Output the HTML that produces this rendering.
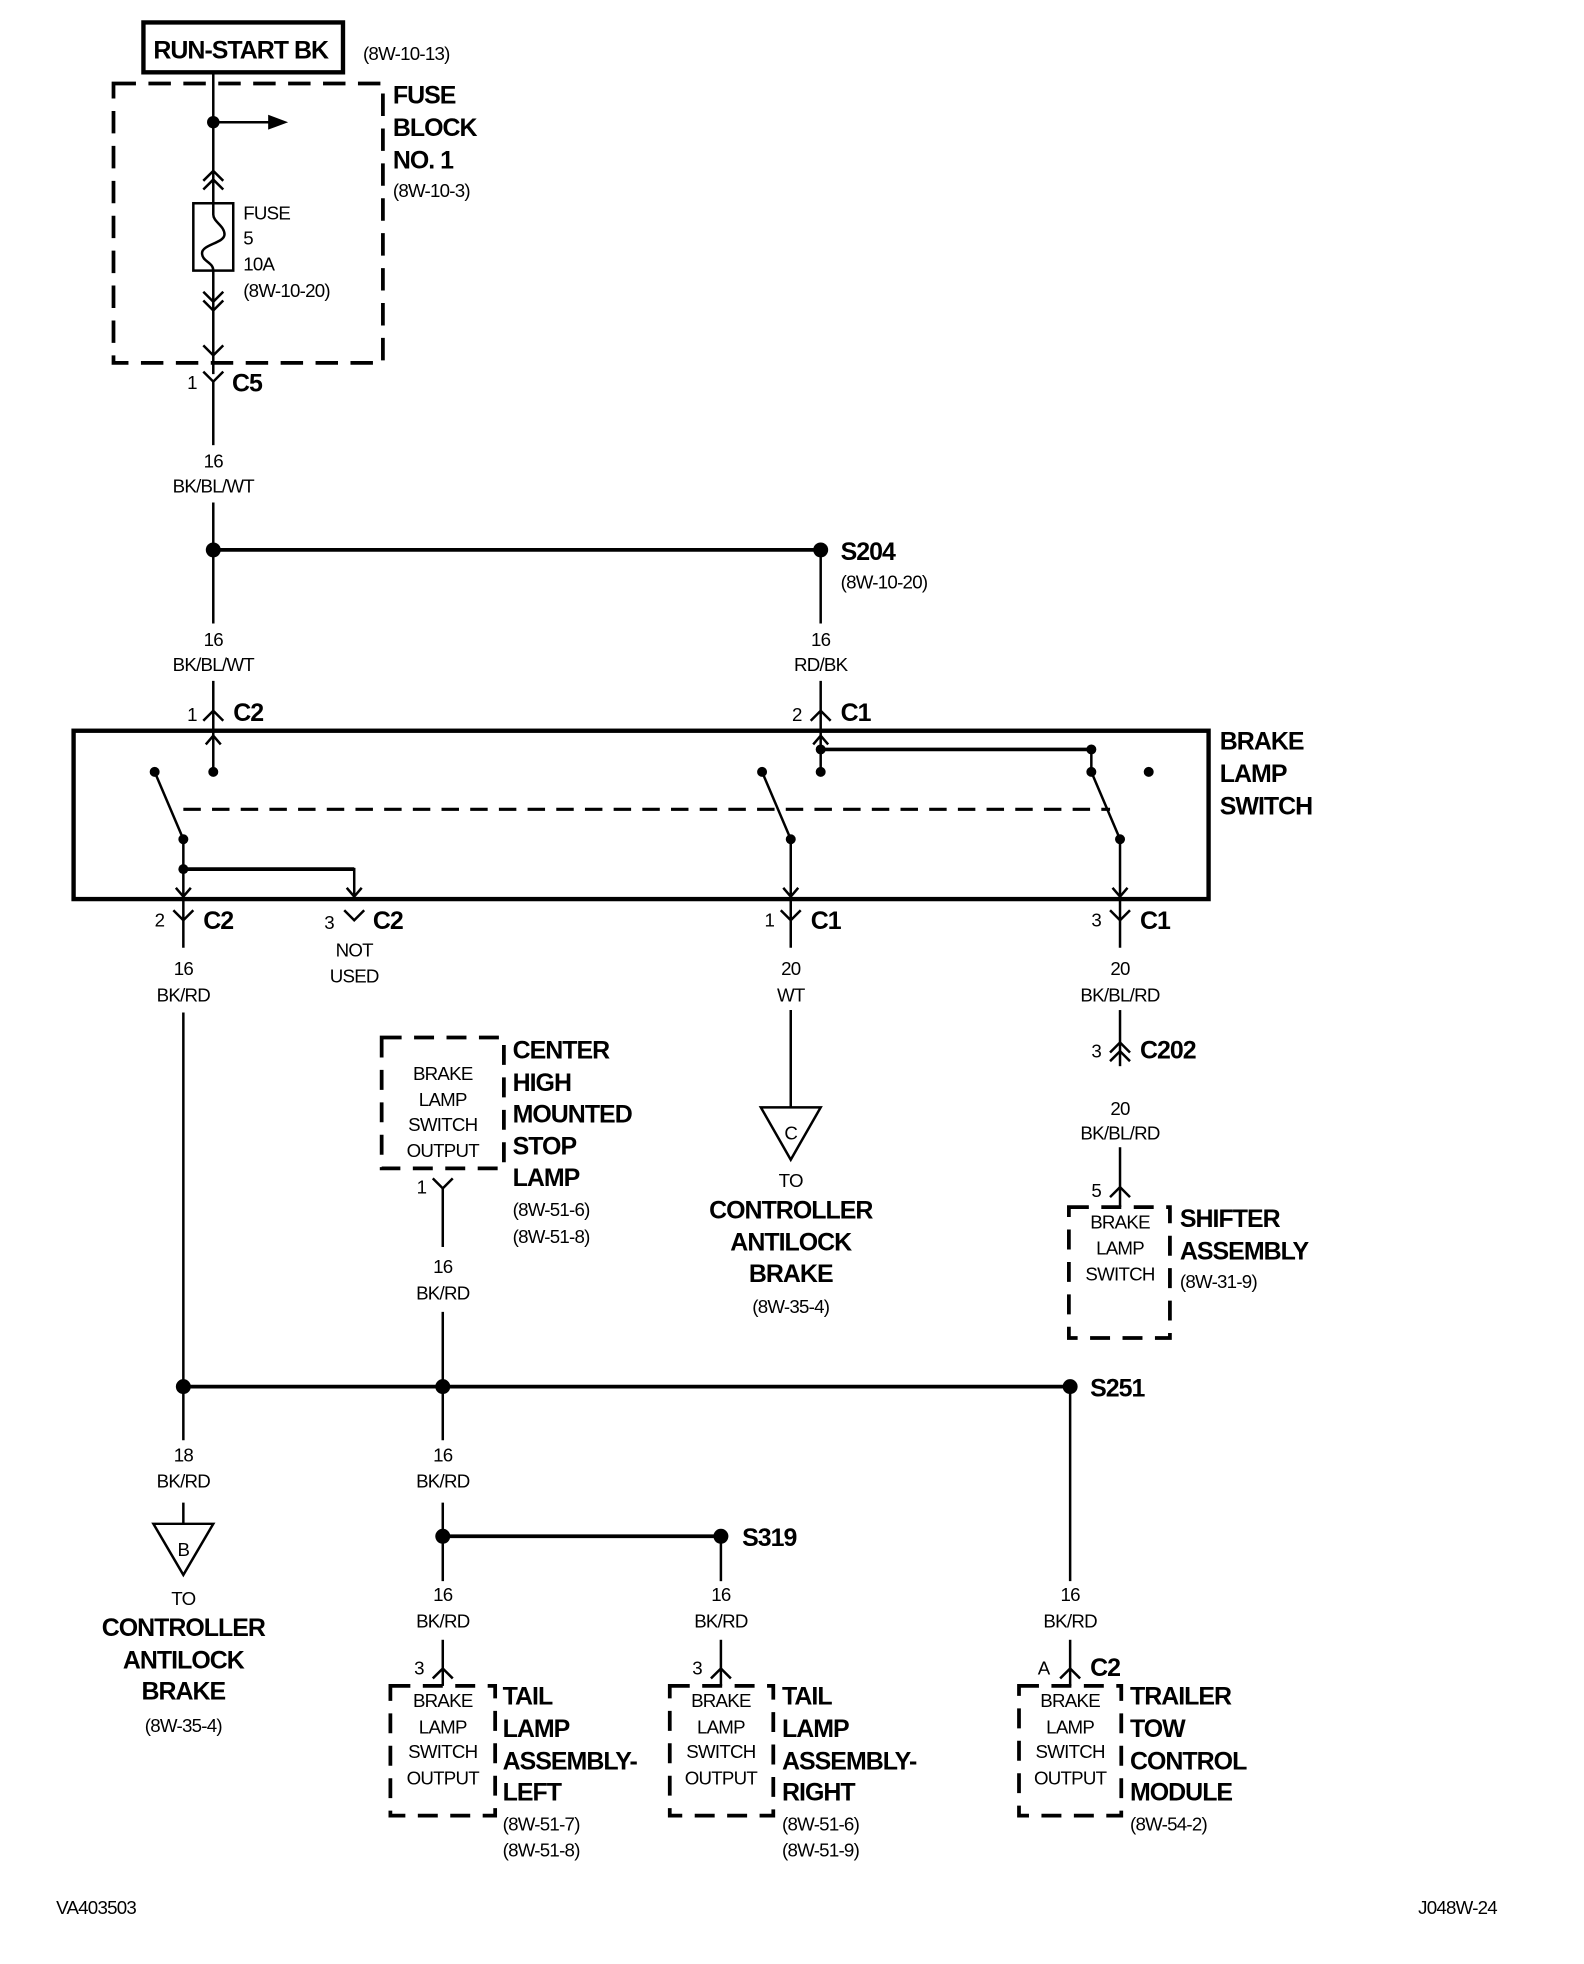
<!DOCTYPE html>
<html><head><meta charset="utf-8"><style>
html,body{margin:0;padding:0;background:#fff}
svg{display:block}
text{font-family:"Liberation Sans",sans-serif;fill:#000}
.b{font-weight:bold;font-size:20px;letter-spacing:-0.8px}
.s{font-size:15px;letter-spacing:-0.6px}
.c{text-anchor:middle}
</style></head><body>
<svg width="1584" height="1964" viewBox="0 0 1270 1575" preserveAspectRatio="none" xmlns="http://www.w3.org/2000/svg">
<g stroke="#000" stroke-width="2" fill="none">
<!-- top -->
<rect x="115" y="18" width="160" height="40" stroke-width="3.5"/>
<rect x="91" y="67" width="216" height="224" stroke-width="3" stroke-dasharray="18 10"/>
<line x1="171" y1="58" x2="171" y2="163"/>
<line x1="171" y1="98" x2="218" y2="98"/>
<polyline points="163,145 171,137 179,145"/><polyline points="163,152 171,144 179,152"/>
<rect x="155" y="163" width="32" height="54"/>
<path d="M171,163 V172 C171,178 180,181 180,188 C180,195 162,196 162,203 C162,210 171,210 171,217"/>
<line x1="171" y1="217" x2="171" y2="300"/>
<polyline points="163,234 171,242 179,234"/><polyline points="163,241 171,249 179,241"/>
<polyline points="163,277 171,285 179,277"/>
<polyline points="163,298 171,306 179,298"/>
<line x1="171" y1="306" x2="171" y2="357"/>
<line x1="171" y1="403" x2="171" y2="500"/>
<line x1="171" y1="441" x2="658" y2="441" stroke-width="3"/>
<line x1="658" y1="441" x2="658" y2="500"/>
<!-- C2 / C1 top -->
<line x1="171" y1="546" x2="171" y2="620"/>
<polyline points="163,578 171,570 179,578"/>
<polyline points="165,597 171,590 177,597"/>
<line x1="658" y1="546" x2="658" y2="620"/>
<polyline points="650,578 658,570 666,578"/>
<polyline points="652,597 658,590 664,597"/>
<!-- switch box -->
<rect x="59" y="586" width="910" height="135" stroke-width="3.5"/>
<line x1="124" y1="619" x2="147" y2="673"/>
<line x1="611" y1="619" x2="634" y2="673"/>
<line x1="875" y1="619" x2="898" y2="673"/>
<line x1="147" y1="649" x2="890" y2="649" stroke-width="2.5" stroke-dasharray="14 9"/>
<line x1="658" y1="601" x2="875" y2="601" stroke-width="3"/>
<line x1="875" y1="601" x2="875" y2="619"/>
<line x1="147" y1="673" x2="147" y2="760"/>
<polyline points="147,697 284,697 284,720" stroke-width="2"/>
<line x1="147" y1="697" x2="284" y2="697" stroke-width="3"/>
<line x1="634" y1="673" x2="634" y2="760"/>
<line x1="898" y1="673" x2="898" y2="760"/>
<polyline points="141,712 147,719 153,712"/><polyline points="278,712 284,719 290,712"/>
<polyline points="628,712 634,719 640,712"/><polyline points="892,712 898,719 904,712"/>
<polyline points="139,730 147,738 155,730"/><polyline points="276,730 284,738 292,730"/>
<polyline points="626,730 634,738 642,730"/><polyline points="890,730 898,738 906,730"/>
<!-- lower wires -->
<line x1="147" y1="812" x2="147" y2="1155"/>
<line x1="634" y1="810" x2="634" y2="888"/>
<polygon points="610,888 658,888 634,930"/>
<line x1="898" y1="810" x2="898" y2="855"/>
<polyline points="890,844 898,836 906,844"/><polyline points="890,851 898,843 906,851"/>
<line x1="898" y1="920" x2="898" y2="968"/>
<polyline points="890,960 898,952 906,960"/>
<rect x="857" y="968" width="81" height="105" stroke-width="3" stroke-dasharray="16 10"/>
<rect x="306" y="832" width="98" height="105" stroke-width="3" stroke-dasharray="16 10"/>
<polyline points="347,945 355,953 363,945"/>
<line x1="355" y1="953" x2="355" y2="1000"/>
<line x1="355" y1="1052" x2="355" y2="1155"/>
<line x1="147" y1="1112" x2="858" y2="1112" stroke-width="3"/>
<line x1="858" y1="1112" x2="858" y2="1268"/>
<line x1="147" y1="1205" x2="147" y2="1222"/>
<polygon points="123,1222 171,1222 147,1263"/>
<line x1="355" y1="1205" x2="355" y2="1268"/>
<line x1="355" y1="1232" x2="578" y2="1232" stroke-width="3"/>
<line x1="578" y1="1232" x2="578" y2="1268"/>
<line x1="355" y1="1315" x2="355" y2="1352"/><polyline points="347,1346 355,1338 363,1346"/>
<line x1="578" y1="1315" x2="578" y2="1352"/><polyline points="570,1346 578,1338 586,1346"/>
<line x1="858" y1="1315" x2="858" y2="1352"/><polyline points="850,1346 858,1338 866,1346"/>
<rect x="313" y="1352" width="84" height="104" stroke-width="3" stroke-dasharray="16 10"/>
<rect x="537" y="1352" width="83" height="104" stroke-width="3" stroke-dasharray="16 10"/>
<rect x="817" y="1352" width="82" height="104" stroke-width="3" stroke-dasharray="16 10"/>
</g>
<polygon points="215,92 231,98 215,104" fill="#000"/>
<g fill="#000">
<circle cx="171" cy="98" r="5"/><circle cx="171" cy="441" r="6"/><circle cx="658" cy="441" r="6"/>
<circle cx="124" cy="619" r="4"/><circle cx="171" cy="619" r="4"/><circle cx="147" cy="673" r="4"/><circle cx="147" cy="697" r="4"/>
<circle cx="611" cy="619" r="4"/><circle cx="658" cy="619" r="4"/><circle cx="658" cy="601" r="4"/><circle cx="634" cy="673" r="4"/>
<circle cx="875" cy="601" r="4"/><circle cx="875" cy="619" r="4"/><circle cx="921" cy="619" r="4"/><circle cx="898" cy="673" r="4"/>
<circle cx="147" cy="1112" r="6"/><circle cx="355" cy="1112" r="6"/><circle cx="858" cy="1112" r="6"/>
<circle cx="355" cy="1232" r="6"/><circle cx="578" cy="1232" r="6"/>
</g>
<text class="b" x="123" y="47">RUN-START BK</text>
<text class="s" x="291" y="48">(8W-10-13)</text>
<text class="b" x="315" y="83">FUSE</text><text class="b" x="315" y="109">BLOCK</text><text class="b" x="315" y="135">NO. 1</text>
<text class="s" x="315" y="158">(8W-10-3)</text>
<text class="s" x="195" y="176">FUSE</text><text class="s" x="195" y="196">5</text><text class="s" x="195" y="217">10A</text><text class="s" x="195" y="238">(8W-10-20)</text>
<text class="s" x="150" y="312">1</text><text class="b" x="186" y="314">C5</text>
<text class="s c" x="171" y="375">16</text><text class="s c" x="171" y="395">BK/BL/WT</text>
<text class="b" x="674" y="449">S204</text><text class="s" x="674" y="472">(8W-10-20)</text>
<text class="s c" x="171" y="518">16</text><text class="s c" x="171" y="538">BK/BL/WT</text>
<text class="s c" x="658" y="518">16</text><text class="s c" x="658" y="538">RD/BK</text>
<text class="s" x="150" y="578">1</text><text class="b" x="187" y="578">C2</text>
<text class="s" x="635" y="578">2</text><text class="b" x="674" y="578">C1</text>
<text class="b" x="978" y="601">BRAKE</text><text class="b" x="978" y="627">LAMP</text><text class="b" x="978" y="653">SWITCH</text>
<text class="s" x="124" y="743">2</text><text class="b" x="163" y="745">C2</text>
<text class="s" x="260" y="745">3</text><text class="b" x="299" y="745">C2</text>
<text class="s" x="613" y="743">1</text><text class="b" x="650" y="745">C1</text>
<text class="s" x="875" y="743">3</text><text class="b" x="914" y="745">C1</text>
<text class="s c" x="147" y="782">16</text><text class="s c" x="147" y="803">BK/RD</text>
<text class="s c" x="284" y="767">NOT</text><text class="s c" x="284" y="788">USED</text>
<text class="s c" x="634" y="782">20</text><text class="s c" x="634" y="803">WT</text>
<text class="s c" x="898" y="782">20</text><text class="s c" x="898" y="803">BK/BL/RD</text>
<text class="s" x="875" y="848">3</text><text class="b" x="914" y="849">C202</text>
<text class="s c" x="898" y="894">20</text><text class="s c" x="898" y="914">BK/BL/RD</text>
<text class="s" x="875" y="960">5</text>
<text class="s c" x="898" y="985">BRAKE</text><text class="s c" x="898" y="1006">LAMP</text><text class="s c" x="898" y="1027">SWITCH</text>
<text class="b" x="946" y="984">SHIFTER</text><text class="b" x="946" y="1010">ASSEMBLY</text><text class="s" x="946" y="1033">(8W-31-9)</text>
<text class="s c" x="355" y="866">BRAKE</text><text class="s c" x="355" y="887">LAMP</text><text class="s c" x="355" y="907">SWITCH</text><text class="s c" x="355" y="928">OUTPUT</text>
<text class="b" x="411" y="849">CENTER</text><text class="b" x="411" y="875">HIGH</text><text class="b" x="411" y="900">MOUNTED</text><text class="b" x="411" y="926">STOP</text><text class="b" x="411" y="951">LAMP</text>
<text class="s" x="411" y="975">(8W-51-6)</text><text class="s" x="411" y="997">(8W-51-8)</text>
<text class="s" x="334" y="957">1</text>
<text class="s c" x="355" y="1021">16</text><text class="s c" x="355" y="1042">BK/RD</text>
<text class="s c" x="634" y="914">C</text>
<text class="s c" x="634" y="952">TO</text>
<text class="b c" x="634" y="977">CONTROLLER</text><text class="b c" x="634" y="1003">ANTILOCK</text><text class="b c" x="634" y="1028">BRAKE</text>
<text class="s c" x="634" y="1053">(8W-35-4)</text>
<text class="b" x="874" y="1120">S251</text>
<text class="s c" x="147" y="1172">18</text><text class="s c" x="147" y="1193">BK/RD</text>
<text class="s c" x="355" y="1172">16</text><text class="s c" x="355" y="1193">BK/RD</text>
<text class="s c" x="147" y="1248">B</text>
<text class="s c" x="147" y="1287">TO</text>
<text class="b c" x="147" y="1312">CONTROLLER</text><text class="b c" x="147" y="1338">ANTILOCK</text><text class="b c" x="147" y="1363">BRAKE</text>
<text class="s c" x="147" y="1389">(8W-35-4)</text>
<text class="b" x="595" y="1240">S319</text>
<text class="s c" x="355" y="1284">16</text><text class="s c" x="355" y="1305">BK/RD</text>
<text class="s c" x="578" y="1284">16</text><text class="s c" x="578" y="1305">BK/RD</text>
<text class="s c" x="858" y="1284">16</text><text class="s c" x="858" y="1305">BK/RD</text>
<text class="s" x="332" y="1343">3</text><text class="s" x="555" y="1343">3</text>
<text class="s" x="832" y="1343">A</text><text class="b" x="874" y="1344">C2</text>
<g class="s c">
<text class="s c" x="355" y="1369">BRAKE</text><text class="s c" x="355" y="1390">LAMP</text><text class="s c" x="355" y="1410">SWITCH</text><text class="s c" x="355" y="1431">OUTPUT</text>
<text class="s c" x="578" y="1369">BRAKE</text><text class="s c" x="578" y="1390">LAMP</text><text class="s c" x="578" y="1410">SWITCH</text><text class="s c" x="578" y="1431">OUTPUT</text>
<text class="s c" x="858" y="1369">BRAKE</text><text class="s c" x="858" y="1390">LAMP</text><text class="s c" x="858" y="1410">SWITCH</text><text class="s c" x="858" y="1431">OUTPUT</text>
</g>
<text class="b" x="403" y="1367">TAIL</text><text class="b" x="403" y="1393">LAMP</text><text class="b" x="403" y="1419">ASSEMBLY-</text><text class="b" x="403" y="1444">LEFT</text>
<text class="s" x="403" y="1468">(8W-51-7)</text><text class="s" x="403" y="1489">(8W-51-8)</text>
<text class="b" x="627" y="1367">TAIL</text><text class="b" x="627" y="1393">LAMP</text><text class="b" x="627" y="1419">ASSEMBLY-</text><text class="b" x="627" y="1444">RIGHT</text>
<text class="s" x="627" y="1468">(8W-51-6)</text><text class="s" x="627" y="1489">(8W-51-9)</text>
<text class="b" x="906" y="1367">TRAILER</text><text class="b" x="906" y="1393">TOW</text><text class="b" x="906" y="1419">CONTROL</text><text class="b" x="906" y="1444">MODULE</text>
<text class="s" x="906" y="1468">(8W-54-2)</text>
<text class="s" x="45" y="1535">VA403503</text>
<text class="s" x="1137" y="1535">J048W-24</text>
</svg>
</body></html>
